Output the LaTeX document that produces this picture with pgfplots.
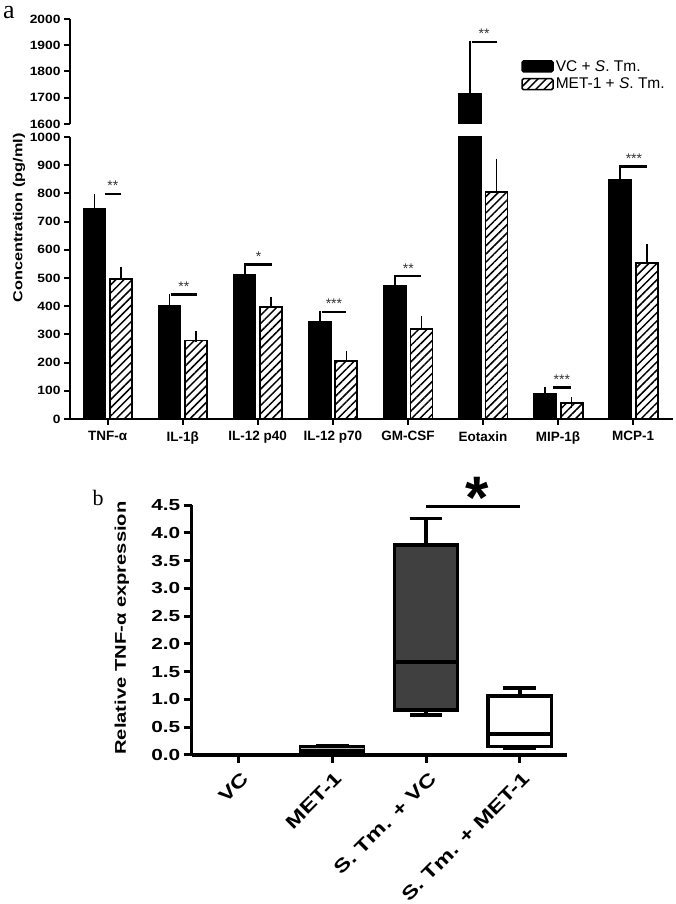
\documentclass[border=0pt]{standalone}
\usepackage{fontspec}
\setmainfont{Liberation Sans}
\newfontfamily\wideA[FakeStretch=1.15]{Liberation Sans}
\newfontfamily\wideB[FakeStretch=1.3]{Liberation Sans}
\newfontfamily\wideC[FakeStretch=1.25]{Liberation Sans}
\newfontfamily\serifL{Liberation Serif}
\usepackage{pgfplots}
\pgfplotsset{compat=1.18}
\usepackage{pgfplotstable}
\usepgfplotslibrary{statistics}
\usetikzlibrary{patterns.meta}

\pgfplotstableread{
x vc vce met mete
0 745 35 497 22
1 403 21 278 16
2 510 22 398 16
3 344 21 206 17
4 474 17 320 26
5 1717 180 805 99
6 90 3 56 3
7 850 30 552 48
}\cytokines

\pgfplotstableread{
x vc vce
5 1717 180
}\eotaxin

\tikzset{sig/.style={line width=2.4pt}}
\pgfplotsset{
  myerr/.style={error bars/y dir=plus, error bars/y explicit,
    error bars/error bar style={line width=1.6pt,black},
    error bars/error mark options={line width=1.6pt,black,mark size=5.5pt}},
  panelA/.style={scale only axis, width=603pt, xmin=-0.5, xmax=7.53,
    axis y line*=left, axis line style={-,line width=2.4pt},
    tick align=outside, major tick length=6pt, tick style={line width=2pt,black},
    yticklabel style={font=\wideA\bfseries\fontsize{12}{14}\selectfont},
    clip mode=individual, ybar, bar width=22pt},
}

\begin{document}
\begin{tikzpicture}
\useasboundingbox (0pt,0pt) rectangle (675pt,904pt);
\node[font=\serifL\fontsize{26}{26}\selectfont, inner sep=0pt] at (9pt,891pt) {a};
\node[font=\serifL\fontsize{22}{22}\selectfont, inner sep=0pt] at (98pt,406pt) {b};

% ---- panel a, upper segment
\begin{axis}[panelA, at={(70pt,780pt)}, anchor=south west, height=105pt,
  ymin=1600, ymax=2000, axis x line=none,
  ytick={1600,1700,1800,1900,2000}, yticklabels={1600,1700,1800,1900,2000}]
\addplot[fill=black, draw=black, line width=1.5pt, bar shift=0pt, myerr]
  table[x expr=\thisrow{x}-0.1731,y=vc,y error=vce]{\eotaxin};
\draw[sig] (axis cs:4.85,1913) -- (axis cs:5.18,1913);
\node[anchor=base, yshift=3pt, inner sep=0pt, text=black!80, font=\fontsize{14}{14}\selectfont] at (axis cs:5.015,1913) {**};
\end{axis}

% ---- panel a, lower segment
\begin{axis}[panelA, at={(70pt,485pt)}, anchor=south west, height=282pt,
  ymin=0, ymax=1000, axis x line*=bottom,
  xtick={0,1,2,3,4,5,6,7},
  xticklabels={TNF-α, IL-1β, IL-12 p40, IL-12 p70, GM-CSF, Eotaxin, MIP-1β, MCP-1},
  xticklabel style={font=\bfseries\fontsize{13.5}{15}\selectfont, yshift=-3pt},
  ytick={0,100,200,300,400,500,600,700,800,900,1000},
  yticklabels={0,100,200,300,400,500,600,700,800,900,1000},
  ylabel={Concentration (pg/ml)},
  ylabel style={at={(axis description cs:-0.0846,0.713)}, anchor=center,
    font=\wideC\bfseries\fontsize{13}{15}\selectfont},
  legend image code/.code={\draw[#1,/tikz/.cd,line width=1.5pt,rounded corners=1.5pt] (0pt,-5.5pt) rectangle (31pt,5.5pt);},
  legend style={at={(axis description cs:0.748,1.28)}, anchor=north west,
    draw=none, fill=none, inner sep=0pt, row sep=1.5pt,
    font=\fontsize{15.5}{17}\selectfont, cells={anchor=west}}]
\addplot[fill=black, draw=black, line width=1.5pt, bar shift=0pt, myerr]
  table[x expr=\thisrow{x}-0.1731,y=vc,y error=vce]{\cytokines};
\addlegendentry{VC + \textit{S}. Tm.}
\addplot[draw=black, line width=1.8pt, pattern={Lines[angle=45,distance=5.8pt,line width=1.5pt]},
  bar shift=0pt, myerr]
  table[x expr=\thisrow{x}+0.1798,y=met,y error=mete]{\cytokines};
\addlegendentry{MET-1 + \textit{S}. Tm.}
\draw[sig] (axis cs:-0.04,798) -- (axis cs:0.18,798);
\draw[sig] (axis cs:0.84,442) -- (axis cs:1.19,442);
\draw[sig] (axis cs:1.83,548) -- (axis cs:2.19,548);
\draw[sig] (axis cs:2.85,380) -- (axis cs:3.18,380);
\draw[sig] (axis cs:3.83,506) -- (axis cs:4.18,506);
\draw[sig] (axis cs:5.93,112) -- (axis cs:6.17,112);
\draw[sig] (axis cs:6.84,895) -- (axis cs:7.18,895);
\begin{scope}[every node/.style={anchor=base, yshift=3pt, inner sep=0pt, text=black!80, font=\fontsize{14}{14}\selectfont}]
\node at (axis cs:0.07,798) {**};
\node at (axis cs:1.015,442) {**};
\node at (axis cs:2.01,548) {*};
\node at (axis cs:3.015,380) {***};
\node at (axis cs:4.005,506) {**};
\node at (axis cs:6.05,112) {***};
\node at (axis cs:7.01,895) {***};
\end{scope}
\end{axis}

% ---- panel b
\begin{axis}[at={(191.7pt,149pt)}, anchor=south west, scale only axis,
  width=375pt, height=250pt, xmin=-0.5, xmax=3.5, ymin=0, ymax=4.5,
  axis x line*=bottom, axis y line*=left, axis line style={-,line width=3.2pt},
  tick align=outside, major tick length=8pt, tick style={line width=3pt,black},
  xtick={0,1,2,3},
  xticklabels={VC, MET-1, S. Tm. + VC, S. Tm. + MET-1},
  xticklabel style={rotate=45, anchor=north east, inner sep=2pt, yshift=-5pt, xshift=-2pt,
    font=\wideB\bfseries\fontsize{18.5}{20}\selectfont},
  ytick={0,0.5,1,1.5,2,2.5,3,3.5,4,4.5},
  yticklabels={0.0,0.5,1.0,1.5,2.0,2.5,3.0,3.5,4.0,4.5},
  yticklabel style={font=\wideB\bfseries\fontsize{16}{18}\selectfont},
  ylabel={Relative TNF-α expression},
  ylabel style={at={(axis description cs:-0.186,0.508)}, anchor=center,
    font=\wideB\bfseries\fontsize{15.5}{18}\selectfont},
  clip mode=individual,
  boxplot/draw direction=y,
  boxplot/box extend=0.675, boxplot/whisker extend=0.35]
\addplot[boxplot prepared={draw position=0, lower whisker=0.005, lower quartile=0.008,
  median=0.012, upper quartile=0.018, upper whisker=0.02}, draw=black, fill=black, line width=2.5pt] coordinates {};
\addplot[boxplot prepared={draw position=1, lower whisker=0.02, lower quartile=0.03,
  median=0.12, upper quartile=0.16, upper whisker=0.17}, draw=black, fill=black, line width=3pt,
  boxplot/every median/.style={draw=gray!60, line width=1.5pt}] coordinates {};
\addplot[boxplot prepared={draw position=2, lower whisker=0.72, lower quartile=0.81,
  median=1.67, upper quartile=3.78, upper whisker=4.26}, draw=black, fill=black!75, line width=3.5pt] coordinates {};
\addplot[boxplot prepared={draw position=3, lower whisker=0.13, lower quartile=0.15,
  median=0.38, upper quartile=1.06, upper whisker=1.21}, draw=black, fill=white, line width=3.5pt] coordinates {};
\draw[line width=3pt] (axis cs:2,4.48) -- (axis cs:3,4.48);
\node[anchor=base, inner sep=0pt, font=\bfseries\fontsize{60}{60}\selectfont] at (axis cs:2.54,4.25) {*};
\end{axis}
\end{tikzpicture}
\end{document}
